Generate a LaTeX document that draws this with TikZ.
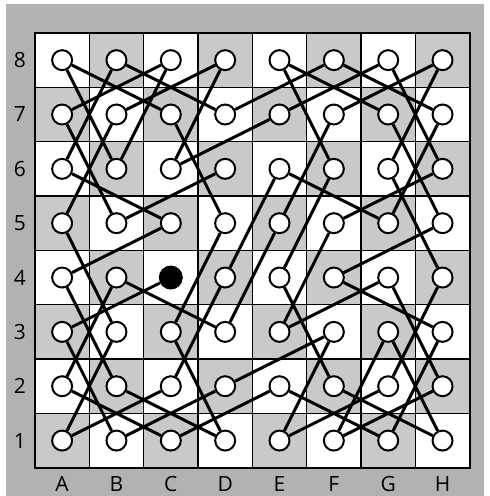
\documentclass[tikz,border=0pt]{standalone}
\usepackage{fontspec}
\setmainfont{Open Sans}
\usepackage{tikz}
\usetikzlibrary{calc}

\definecolor{framegray}{gray}{0.70}
\definecolor{squaregray}{gray}{0.79}

\begin{document}
\begin{tikzpicture}[x=54.4pt, y=54.4pt,
		hole/.style={circle, draw=black, line width=2pt, fill=white, minimum size=20pt, inner sep=0pt},
		start/.style={circle, fill=black, minimum size=24pt, inner sep=0pt},
		tour/.style={line width=3pt},
		coordlabel/.style={font=\fontsize{21}{24}\selectfont, inner sep=0pt}]

			\useasboundingbox (-0.143,-0.02) rectangle (8.864,9.107);
			\fill[framegray] (-0.033,-0.02) rectangle (8.772,9.033);

			% board squares
			\foreach \f [count=\i] in {a,b,c,d,e,f,g,h}{
				\foreach \r in {1,...,8}{
					\pgfmathparse{int(mod(\i+\r,2))}
					\ifnum\pgfmathresult=0
						\filldraw[fill=squaregray, draw=black, line width=1.2pt] (\i-0.5,\r-0.5) rectangle (\i+0.5,\r+0.5);
					\else
						\filldraw[fill=white, draw=black, line width=1.2pt] (\i-0.5,\r-0.5) rectangle (\i+0.5,\r+0.5);
					\fi
				}
			}
			\draw[line width=1.8pt] (0.5,0.5) rectangle (8.5,8.5);

			% one circle per square, the start square filled
			\foreach \f [count=\i] in {a,b,c,d,e,f,g,h}{
				\foreach \r in {1,...,8}{
					\node[hole] (\f\r) at (\i,\r) {};
				}
			}
			\node[start] (c4) at (3,4) {};

			% the knight's tour
			\foreach \sq [remember=\sq as \prev (initially c4)] in
				{a3,b1,d2,f3,e1,g2,h4,g6,h8,f7,e5,d3,b4,a2,c1,e2,g1,h3,f4,h5,g7,e8,f6,e4,f2,h1,g3,f1,h2,g4,e3,f5,
				 h6,g8,e7,c6,d8,b7,a5,b3,a1,c2,d4,e6,g5,h7,f8,d7,b8,a6,c5,a4,b2,d1,c3,d5,c7,a8,b6,c8,a7,b5,d6}
				\draw[tour] (\prev) -- (\sq);

			% ranks and files
			\foreach \r in {1,...,8}
				\node[coordlabel] (rank\r) at (0.224,\r) {\r};
			\foreach \F [count=\i] in {A,B,C,D,E,F,G,H}
				\node[coordlabel] (file\F) at (\i,0.206) {\F};
		\end{tikzpicture}
\end{document}
